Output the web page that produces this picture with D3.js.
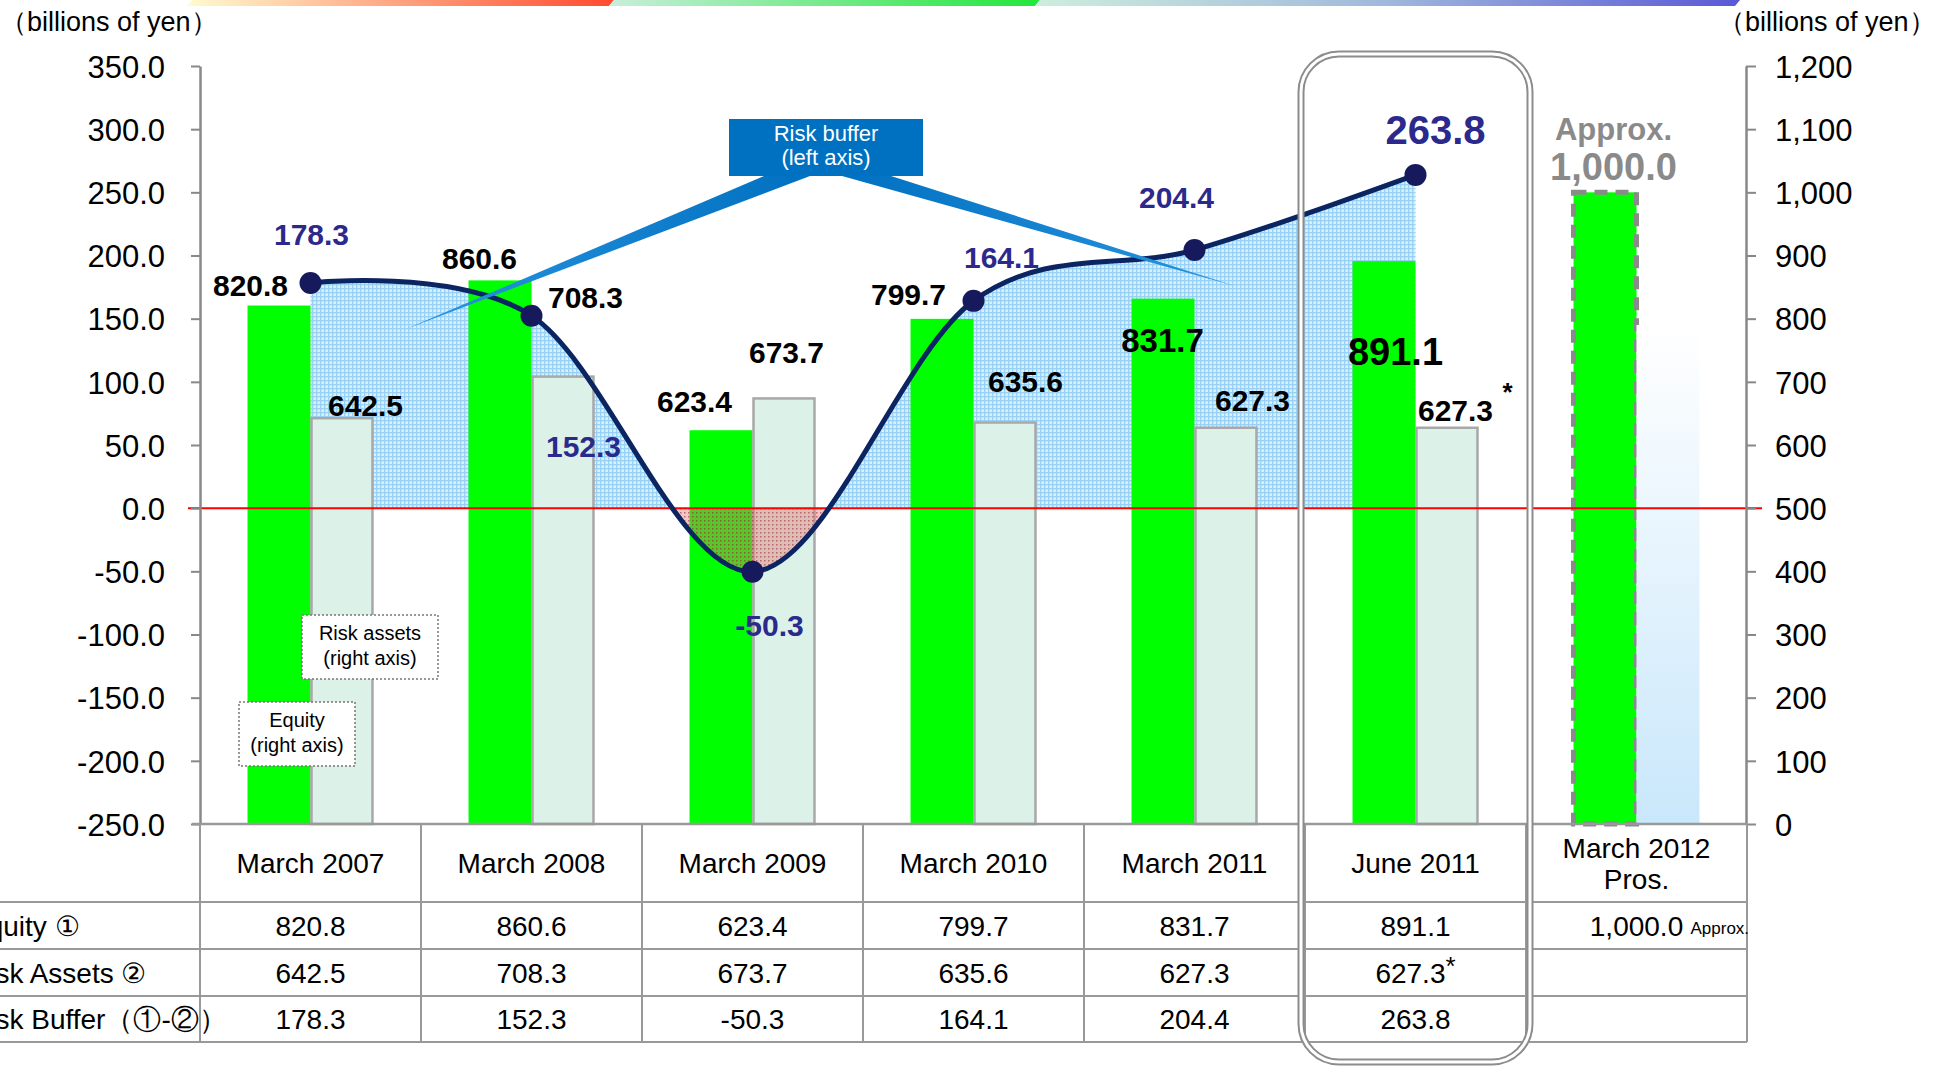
<!DOCTYPE html>
<html>
<head>
<meta charset="utf-8">
<script src="https://cdn.jsdelivr.net/npm/d3@7"></script>
<style>
  body { margin: 0; background: #fff; }
  svg { display: block; font-family: "Liberation Sans", Arial, sans-serif; }
  .narrow { font-family: "Liberation Sans Narrow", "Arial Narrow", "Liberation Sans", sans-serif; }
</style>
</head>
<body>
<div class="chart"></div>
<script>
// chart values
var categories = ["March 2007", "March 2008", "March 2009", "March 2010", "March 2011", "June 2011", "March 2012|Pros."];
var equity = [820.8, 860.6, 623.4, 799.7, 831.7, 891.1, 1000.0];
var riskAssets = [642.5, 708.3, 673.7, 635.6, 627.3, 627.3];
var riskBuffer = [178.3, 152.3, -50.3, 164.1, 204.4, 263.8];
var riskAssetsPros = 790; // faded projection bar
var leftTicks = [-250, -200, -150, -100, -50, 0, 50, 100, 150, 200, 250, 300, 350];
var rightTicks = [0, 100, 200, 300, 400, 500, 600, 700, 800, 900, 1000, 1100, 1200];
var rowLabels = ["Equity \u2460", "Risk Assets \u2461", "Risk Buffer\uff08\u2460-\u2461\uff09"];
var rowEquity = ["820.8", "860.6", "623.4", "799.7", "831.7", "891.1", "1,000.0"];
var rowRisk = ["642.5", "708.3", "673.7", "635.6", "627.3", "627.3*", ""];
var rowBuffer = ["178.3", "152.3", "-50.3", "164.1", "204.4", "263.8", ""];

// label offsets (layout only)
var eqOff = [[-60, -10], [-52, -11], [-58, -18], [-65, -14], [-32, 53], [-20, 104]];
var raOff = [[55, -2], [54, -69], [34, -35], [52, -31], [58, -17], [40, -7]];
var rbOff = [[1, -38], [52, 141], [17, 64], [28, -33], [-18, -42], [20, -31]];

var svgWidth = 1960, svgHeight = 1068;
var plotTop = 66, plotBottom = 824, plotLeft = 200, plotRight = 1747;

var svg = d3.select(".chart").append("svg")
  .attr("width", svgWidth).attr("height", svgHeight);

var x = d3.scaleBand().domain(categories).range([plotLeft, plotRight]);
var yL = d3.scaleLinear().domain([-250, 350]).range([plotBottom, plotTop]);
var yR = d3.scaleLinear().domain([0, 1200]).range([plotBottom, plotTop]);
var bw = x.bandwidth();
var barW = bw * 0.285;
var cx = function(i) { return x(categories[i]) + bw / 2; };

var defs = svg.append("defs");

// patterns
var pb = defs.append("pattern").attr("id", "bluePat").attr("width", 4).attr("height", 4)
  .attr("patternUnits", "userSpaceOnUse");
pb.append("rect").attr("width", 4).attr("height", 4).attr("fill", "#d9f0fd");
pb.append("rect").attr("width", 4).attr("height", 1.3).attr("fill", "#98d1f5");
pb.append("rect").attr("width", 1.3).attr("height", 4).attr("fill", "#98d1f5");

var pr = defs.append("pattern").attr("id", "redPat").attr("width", 4).attr("height", 4)
  .attr("patternUnits", "userSpaceOnUse");
pr.append("rect").attr("width", 4).attr("height", 4).attr("fill", "rgba(225,110,110,0.40)");
pr.append("rect").attr("width", 1.5).attr("height", 1.5).attr("fill", "rgba(150,30,40,0.55)");

function linGrad(id, stops, x1, y1, x2, y2) {
  var g = defs.append("linearGradient").attr("id", id)
    .attr("x1", x1).attr("y1", y1).attr("x2", x2).attr("y2", y2);
  stops.forEach(function(s) {
    g.append("stop").attr("offset", s[0]).attr("stop-color", s[1]);
  });
}
linGrad("top1", [[0, "#fffbd0"], [1, "#ff4a2e"]], 0, 0, 1, 0);
linGrad("top2", [[0, "#c8eedb"], [1, "#22e63a"]], 0, 0, 1, 0);
linGrad("top3", [[0, "#cdeedd"], [0.5, "#9fb8dc"], [1, "#5a58d6"]], 0, 0, 1, 0);
linGrad("fade", [[0, "#ffffff"], [1, "#c9e7fb"]], 0, 0, 0, 1);
linGrad("wedgeL", [[0, "#2a95e0"], [1, "#0070c0"]], 0, 0, 1, 0);
linGrad("wedgeR", [[0, "#0070c0"], [1, "#2a95e0"]], 0, 0, 1, 0);

defs.append("clipPath").attr("id", "clipPos").append("rect")
  .attr("x", 0).attr("y", 0).attr("width", svgWidth).attr("height", yL(0));
defs.append("clipPath").attr("id", "clipNeg").append("rect")
  .attr("x", 0).attr("y", yL(0)).attr("width", svgWidth).attr("height", svgHeight);

// top decorative band
var topSegs = [[192, 614, "top1"], [614, 1040, "top2"], [1040, 1740, "top3"]];
svg.selectAll(".topseg").data(topSegs).enter().append("polygon")
  .attr("points", function(d) { return [[d[0], 0], [d[1], 0], [d[1] - 5, 6], [d[0] - 5, 6]].join(" "); })
  .attr("fill", function(d) { return "url(#" + d[2] + ")"; });

// area under risk buffer
var idx = d3.range(riskBuffer.length);
var area = d3.area()
  .x(function(i) { return cx(i); })
  .y0(yL(0))
  .y1(function(i) { return yL(riskBuffer[i]); })
  .curve(d3.curveCardinal);
var line = d3.line()
  .x(function(i) { return cx(i); })
  .y(function(i) { return yL(riskBuffer[i]); })
  .curve(d3.curveCardinal);

svg.append("path").attr("d", area(idx)).attr("fill", "url(#bluePat)")
  .attr("clip-path", "url(#clipPos)");

// equity bars
svg.selectAll(".eq").data(equity).enter().append("rect")
  .attr("x", function(d, i) { return cx(i) - barW; })
  .attr("y", function(d) { return yR(d); })
  .attr("width", barW)
  .attr("height", function(d) { return yR(0) - yR(d); })
  .attr("fill", "#00ff00")
  .attr("stroke", function(d, i) { return i == 6 ? "#8a8a8a" : "none"; })
  .attr("stroke-width", 5)
  .attr("stroke-dasharray", "13,8");

// projection fade bar
svg.append("rect")
  .attr("x", cx(6)).attr("y", yR(riskAssetsPros))
  .attr("width", barW).attr("height", yR(0) - yR(riskAssetsPros))
  .attr("fill", "url(#fade)");

// risk asset bars
svg.selectAll(".ra").data(riskAssets).enter().append("rect")
  .attr("x", function(d, i) { return cx(i) + 1; })
  .attr("y", function(d) { return yR(d); })
  .attr("width", barW - 2)
  .attr("height", function(d) { return yR(0) - yR(d); })
  .attr("fill", "#dcf1e8")
  .attr("stroke", "#a8a8a8")
  .attr("stroke-width", 2.5);

svg.append("path").attr("d", area(idx)).attr("fill", "url(#redPat)")
  .attr("clip-path", "url(#clipNeg)");

// zero line
svg.append("line")
  .attr("x1", 188).attr("x2", 1762)
  .attr("y1", yL(0)).attr("y2", yL(0))
  .attr("stroke", "#ff0000").attr("stroke-width", 2);

// risk buffer line and points
svg.append("path").attr("d", line(idx))
  .attr("fill", "none").attr("stroke", "#0b2462").attr("stroke-width", 5);
svg.selectAll(".pt").data(riskBuffer).enter().append("circle")
  .attr("cx", function(d, i) { return cx(i); })
  .attr("cy", function(d) { return yL(d); })
  .attr("r", 11)
  .attr("fill", "#161a5c");

// callout
svg.append("polygon").attr("points", "764,176 810,176 406,329").attr("fill", "url(#wedgeL)");
svg.append("polygon").attr("points", "842,176 891,176 1235,286").attr("fill", "url(#wedgeR)");
svg.append("rect").attr("x", 729).attr("y", 119).attr("width", 194).attr("height", 57)
  .attr("fill", "#0070c0");
svg.append("text").attr("x", 826).attr("y", 141).attr("text-anchor", "middle")
  .attr("fill", "#fff").style("font-size", "22px").text("Risk buffer");
svg.append("text").attr("x", 826).attr("y", 165).attr("text-anchor", "middle")
  .attr("fill", "#fff").style("font-size", "22px").text("(left axis)");

// data labels
function addLabels(vals, offs, scale, color, sizes) {
  svg.selectAll(null).data(vals).enter().append("text")
    .attr("x", function(d, i) { return cx(i) + offs[i][0]; })
    .attr("y", function(d, i) { return scale(d) + offs[i][1]; })
    .attr("text-anchor", "middle")
    .attr("fill", color)
    .style("font-weight", "bold")
    .style("font-size", function(d, i) { return sizes[i] + "px"; })
    .text(function(d) { return d.toFixed(1); });
}
addLabels(equity.slice(0, 6), eqOff, yR, "#000", [30, 30, 30, 30, 33, 38]);
addLabels(riskAssets, raOff, yR, "#000", [30, 30, 30, 30, 30, 30]);
addLabels(riskBuffer, rbOff, yL, "#2b2a8c", [30, 30, 30, 30, 30, 40]);
svg.append("text").attr("x", cx(5) + 92).attr("y", yR(riskAssets[5]) - 27)
  .attr("text-anchor", "middle").style("font-size", "26px").style("font-weight", "bold").text("*");
svg.append("text").attr("x", cx(6) - 23).attr("y", yR(equity[6]) - 52)
  .attr("text-anchor", "middle").attr("fill", "#8a8a8a")
  .style("font-size", "31px").style("font-weight", "bold").text("Approx.");
svg.append("text").attr("x", cx(6) - 23).attr("y", yR(equity[6]) - 12)
  .attr("text-anchor", "middle").attr("fill", "#8a8a8a")
  .style("font-size", "38px").style("font-weight", "bold").text("1,000.0");

// axes
var leftAxis = d3.axisLeft(yL).tickValues(leftTicks)
  .tickFormat(function(d) { return d.toFixed(1); })
  .tickSize(9).tickSizeOuter(0).tickPadding(26);
var rightAxis = d3.axisRight(yR).tickValues(rightTicks)
  .tickFormat(d3.format(","))
  .tickSize(10).tickSizeOuter(0).tickPadding(19);

var gl = svg.append("g").attr("transform", "translate(" + plotLeft + ",0)").call(leftAxis);
var gr = svg.append("g").attr("transform", "translate(1746,0)").call(rightAxis);
[gl, gr].forEach(function(g) {
  g.select(".domain").attr("stroke", "#888").attr("stroke-width", 2.5);
  g.selectAll(".tick line").attr("stroke", "#888").attr("stroke-width", 2);
  g.selectAll(".tick text").attr("fill", "#000").style("font-size", "31px")
    .style("font-family", "'Liberation Sans', Arial, sans-serif").attr("dy", "0.36em");
});

svg.append("text").attr("x", 0).attr("y", 31).style("font-size", "27px").text("\uff08billions of yen\uff09");
svg.append("text").attr("x", 1718).attr("y", 31).style("font-size", "27px").text("\uff08billions of yen\uff09");

// table
var rowY = [824, 902, 949, 996, 1042];
var tbl = svg.append("g").attr("class", "narrow");
tbl.append("line").attr("x1", 192).attr("x2", plotRight).attr("y1", rowY[0]).attr("y2", rowY[0])
  .attr("stroke", "#999").attr("stroke-width", 2.5);
rowY.slice(1).forEach(function(y) {
  tbl.append("line").attr("x1", 0).attr("x2", plotRight).attr("y1", y).attr("y2", y)
    .attr("stroke", "#999").attr("stroke-width", 2);
});
d3.range(categories.length + 1).forEach(function(k) {
  var xx = plotLeft + k * bw;
  tbl.append("line").attr("x1", xx).attr("x2", xx).attr("y1", rowY[0]).attr("y2", rowY[4])
    .attr("stroke", "#999").attr("stroke-width", 2);
});
categories.forEach(function(c, i) {
  var parts = c.split("|");
  var t = tbl.append("text").attr("text-anchor", "middle").style("font-size", "28px");
  parts.forEach(function(p, j) {
    t.append("tspan").attr("x", cx(i))
      .attr("y", parts.length == 1 ? 873 : 858 + j * 31).text(p);
  });
});
rowLabels.forEach(function(l, r) {
  tbl.append("text").attr("x", -31).attr("y", (rowY[r + 1] + rowY[r + 2]) / 2 + 10)
    .style("font-size", "28px").text(l);
});
[rowEquity, rowRisk, rowBuffer].forEach(function(row, r) {
  row.forEach(function(v, i) {
    if (!v) return;
    var t = tbl.append("text").attr("text-anchor", "middle")
      .attr("x", cx(i)).attr("y", (rowY[r + 1] + rowY[r + 2]) / 2 + 10)
      .style("font-size", "28px").text(v.replace("*", ""));
    if (v.indexOf("*") >= 0) t.append("tspan").attr("dy", -8).style("font-size", "26px").text("*");
  });
});
tbl.append("text").attr("x", cx(6) + 54).attr("y", (rowY[1] + rowY[2]) / 2 + 8)
  .style("font-size", "17px").text("Approx.");

// highlight box around June 2011
svg.append("rect").attr("x", x(categories[5]) - 4).attr("y", 54)
  .attr("width", bw + 8).attr("height", 1008).attr("rx", 38)
  .attr("fill", "none").attr("stroke", "#8c8c8c").attr("stroke-width", 7);
svg.append("rect").attr("x", x(categories[5]) - 4).attr("y", 54)
  .attr("width", bw + 8).attr("height", 1008).attr("rx", 38)
  .attr("fill", "none").attr("stroke", "#fff").attr("stroke-width", 3);

// legend notes
function note(x0, y0, w, h, lines) {
  svg.append("rect").attr("x", x0).attr("y", y0).attr("width", w).attr("height", h)
    .attr("fill", "#fff").attr("stroke", "#777").attr("stroke-width", 1.5)
    .attr("stroke-dasharray", "2,2");
  lines.forEach(function(s, j) {
    svg.append("text").attr("x", x0 + w / 2).attr("y", y0 + 25 + j * 25)
      .attr("text-anchor", "middle").style("font-size", "20px").text(s);
  });
}
note(302, 615, 136, 64, ["Risk assets", "(right axis)"]);
note(239, 702, 116, 64, ["Equity", "(right axis)"]);
</script>
</body>
</html>
